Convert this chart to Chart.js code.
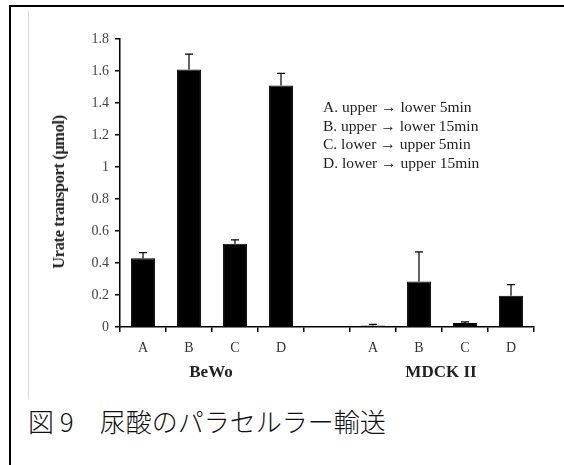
<!DOCTYPE html>
<html>
<head>
<meta charset="utf-8">
<script src="https://cdn.jsdelivr.net/npm/chart.js@4.4.0/dist/chart.umd.min.js"></script>
<style>
  body { margin: 0; background: #fff; }
  #frame { position: absolute; left: 9px; top: 5px; width: 570px; height: 480px;
           border-left: 2px solid #000; border-top: 2px solid #000; }
  #inner { position: absolute; left: 28px; top: 11px; width: 1px; height: 388px; background: #d8d8d8; }
  #wrap { position: absolute; left: 30px; top: 20px; width: 520px; height: 370px; }
  .txt { position: absolute; font-family: "Liberation Serif", serif; color: #222; white-space: nowrap; }
  #ytitle { left: 59px; top: 192px; font-size: 16.5px; font-weight: bold;
            transform: translate(-50%, -50%) rotate(-90deg); letter-spacing: -0.4px; }
  #legend { left: 323px; top: 98px; font-size: 15.5px; line-height: 18.5px; }
  .grp { top: 362px; font-size: 17px; font-weight: bold; transform: translateX(-50%); }
  #caption { left: 28px; top: 402px; font-family: "Noto Sans CJK JP", sans-serif; font-weight: 300;
             font-size: 26px; color: #111; }
</style>
</head>
<body>
<div id="frame"></div>
<div id="inner"></div>
<div id="wrap"><canvas id="c"></canvas></div>
<div class="txt" id="ytitle">Urate transport (μmol)</div>
<div class="txt" id="legend">
  A. upper → lower 5min<br>
  B. upper → lower 15min<br>
  C. lower → upper 5min<br>
  D. lower → upper 15min
</div>
<div class="txt grp" style="left:211px">BeWo</div>
<div class="txt grp" style="left:441px">MDCK II</div>
<div class="txt" id="caption">図 9　尿酸のパラセルラー輸送</div>
<script>
const categories = ['A', 'B', 'C', 'D', '', 'A', 'B', 'C', 'D'];
const means = [0.43, 1.61, 0.52, 1.51, null, 0.01, 0.285, 0.025, 0.195];
const errTops = [0.465, 1.705, 0.545, 1.585, null, 0.016, 0.47, 0.032, 0.265];
const yTicks = [0, 0.2, 0.4, 0.6, 0.8, 1, 1.2, 1.4, 1.6, 1.8];

// draws the upward error bars with caps
const errorBars = {
  id: 'errorBars',
  afterDatasetsDraw(chart) {
    const ctx = chart.ctx;
    const y = chart.scales.y;
    const meta = chart.getDatasetMeta(0);
    ctx.save();
    ctx.strokeStyle = '#000';
    ctx.lineWidth = 1.2;
    meta.data.forEach((bar, i) => {
      if (errTops[i] == null) return;
      const top = y.getPixelForValue(errTops[i]);
      ctx.beginPath();
      ctx.moveTo(bar.x, bar.y);
      ctx.lineTo(bar.x, top);
      ctx.moveTo(bar.x - 4, top);
      ctx.lineTo(bar.x + 4, top);
      ctx.stroke();
    });
    ctx.restore();
  }
};

new Chart(document.getElementById('c'), {
  type: 'bar',
  data: {
    labels: categories,
    datasets: [{
      data: means,
      backgroundColor: '#000',
      borderColor: '#000',
      borderWidth: 1,
      categoryPercentage: 1,
      barPercentage: 0.52
    }]
  },
  options: {
    responsive: true,
    maintainAspectRatio: false,
    animation: false,
    layout: { padding: { top: 19, right: 16, left: 0, bottom: 0 } },
    plugins: { legend: { display: false }, tooltip: { enabled: false } },
    scales: {
      x: {
        offset: true,
        border: { color: '#000', width: 1.5 },
        grid: { offset: true, drawOnChartArea: false, color: '#000', tickLength: 5, lineWidth: 1.5 },
        ticks: { color: '#333', padding: 8, font: { family: 'Liberation Serif', size: 14 } },
        afterFit: s => { s.height = 63; }
      },
      y: {
        min: 0,
        max: 1.8,
        afterBuildTicks: s => { s.ticks = yTicks.map(v => ({ value: v })); },
        border: { color: '#000', width: 1.5 },
        grid: { drawOnChartArea: false, color: '#000', tickLength: 5, lineWidth: 1.5 },
        ticks: { color: '#444', padding: 6, font: { family: 'Liberation Serif', size: 14 },
                 callback: v => String(v) },
        afterFit: s => { s.width = 90; }
      }
    }
  },
  plugins: [errorBars]
});
</script>
</body>
</html>
